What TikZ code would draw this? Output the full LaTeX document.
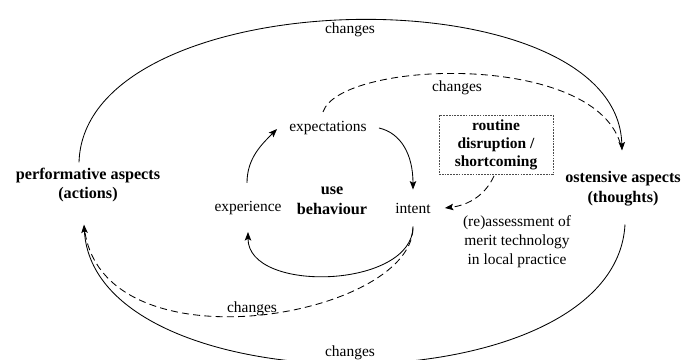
\documentclass[tikz,border=0pt]{standalone}
\usepackage{fontspec}
\setmainfont{Liberation Serif}
\usetikzlibrary{arrows.meta}
\tikzset{
  txt/.style={inner sep=0pt, align=center, font=\fontsize{11}{13.5}\selectfont},
  aspect/.style={txt, font=\fontsize{11.5}{14}\selectfont\bfseries},
  notebox/.style={draw=black!70, dash pattern=on 1.2pt off 0.8pt, line width=0.5pt, inner sep=3pt,
    minimum width=114*0.025cm, minimum height=55*0.025cm, align=center,
    font=\fontsize{11}{13}\selectfont\bfseries},
  arrow/.style={-{Stealth[length=6pt, width=4.6pt, inset=1.2pt]}, line width=0.6pt},
  darrow/.style={arrow, dash pattern=on 5pt off 3pt},
  dline/.style={line width=0.6pt, dash pattern=on 5pt off 3pt},
}

\begin{document}
\begin{tikzpicture}[x=0.025cm, y=-0.025cm]
  \useasboundingbox (0,0) rectangle (693,360);

  % aspects of the routine
  \node[aspect] (perf) at (88,185) {performative aspects\\(actions)};
  \node[aspect] (ost) at (623,189) {ostensive aspects\\(thoughts)};

  % inner cycle
  \node[txt] (exp) at (328,128) {expectations};
  \node[txt] (experience) at (248,208) {experience};
  \node[txt, font=\fontsize{11.5}{14}\selectfont\bfseries] (use) at (332,201) {use\\behaviour};
  \node[txt] (intent) at (413,208) {intent};

  \node[notebox] (routine) at (496,145) {routine\\disruption /\\shortcoming};
  \node[txt] (merit) at (517,242) {(re)assessment of\\merit technology\\in local practice};

  % labels on the change loops
  \node[txt] (chtop) at (350,30) {changes};
  \node[txt] (chexp) at (457,88) {changes};
  \node[txt] (chint) at (252,309) {changes};

  % outer loop
  \draw[arrow] ([shift={(-9,-5)}]perf.north)
    .. controls +(5,-183) and +(-5,-180) .. ([shift={(-1,-21)}]ost.north);
  \draw[dline, shorten >=2pt] ([shift={(-5,-9)}]exp.north)
    .. controls +(17,-52) and +(-22,-100) .. ([shift={(-1,-21)}]ost.north);
  \draw[arrow] ([shift={(2,18)}]ost.south)
    .. controls +(-10,185) and +(11,185) .. ([shift={(-4,22)}]perf.south);
  \draw[dline, shorten >=2pt] ([shift={(0,15)}]intent.south)
    .. controls +(-3,90) and +(16,147) .. ([shift={(-4,22)}]perf.south);
  \node[txt, fill=white, inner sep=1pt] (chbot) at (350,353) {changes};

  % use behaviour cycle
  \draw[arrow] ([shift={(-1,-18)}]experience.north)
    .. controls +(0,-25) and +(-15,15) .. ([shift={(-12,1)}]exp.west);
  \draw[arrow] ([shift={(12,0)}]exp.east)
    .. controls +(22,5) and +(0,-35) .. ([shift={(0,-13)}]intent.north);
  \draw[arrow] ([shift={(0,13)}]intent.south)
    .. controls +(0,62) and +(0,62) .. ([shift={(0,17)}]experience.south);
  \draw[darrow] ([shift={(-2,1)}]routine.south)
    .. controls +(-8,18) and +(25,-3) .. ([shift={(14,0)}]intent.east);

\end{tikzpicture}
\end{document}
